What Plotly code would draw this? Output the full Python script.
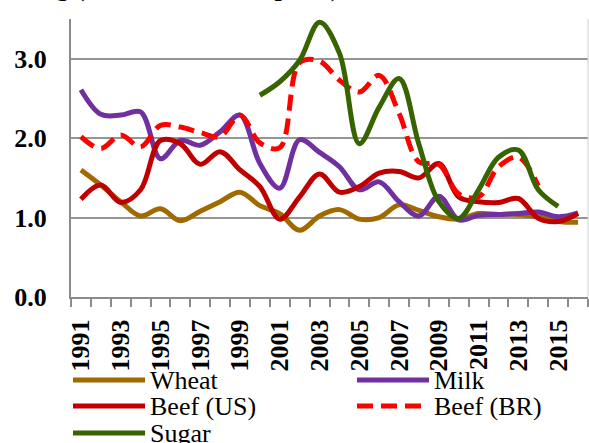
import plotly.graph_objects as go

# values
years = list(range(1991, 2017))
wheat = [1.60, 1.41, 1.20, 1.02, 1.11, 0.96, 1.08, 1.20, 1.32, 1.15, 1.05, 0.84, 1.02,
         1.10, 0.98, 1.00, 1.16, 1.09, 1.01, 0.98, 1.05, 1.04, 1.04, 1.01, 0.95, 0.94]
milk = [2.61, 2.30, 2.29, 2.33, 1.74, 1.97, 1.91, 2.08, 2.29, 1.68, 1.37, 1.98, 1.82,
        1.64, 1.35, 1.45, 1.20, 1.02, 1.27, 0.97, 1.03, 1.04, 1.05, 1.07, 1.01, 1.06]
beef_us = [1.23, 1.41, 1.19, 1.35, 1.97, 1.93, 1.67, 1.83, 1.60, 1.39, 0.98, 1.26, 1.55,
           1.32, 1.39, 1.56, 1.58, 1.50, 1.68, 1.26, 1.20, 1.19, 1.24, 0.99, 0.95, 1.05]
beef_br = [2.02, 1.87, 2.04, 1.89, 2.16, 2.14, 2.07, 2.02, 2.29, 1.94, 1.88, 2.95, 2.97,
           2.73, 2.58, 2.79, 2.31, 1.70, 1.67, 1.30, 1.26, 1.64, 1.76, 1.40, None, None]
sugar = [None] * 9 + [2.54, 2.71, 2.98, 3.46, 3.07, 1.93, 2.39, 2.75, 1.92, 1.20,
                      0.99, 1.35, 1.76, 1.85, 1.35, 1.14, None]
y_ticks = [0, 1, 2, 3]
x_ticks = list(range(1991, 2016, 2))

series = [
    ("Wheat", wheat, "#A06A00", "solid"),
    ("Milk", milk, "#7030A0", "solid"),
    ("Beef (US)", beef_us, "#C00000", "solid"),
    ("Beef (BR)", beef_br, "#FF0000", "16px,8px"),
    ("Sugar", sugar, "#376400", "solid"),
]

W, H = 589, 443
L, R, T, B = 71, 1, 19, 146
pw, ph = W - L - R, H - T - B
SERIF = "Liberation Serif"


def px(x):
    return (x - L) / pw


def py(y):
    return (H - B - y) / ph


fig = go.Figure()
for name, vals, color, dash in series:
    fig.add_trace(go.Scatter(
        x=years, y=vals, name=name, mode="lines",
        line={"color": color, "width": 5, "dash": dash, "shape": "spline", "smoothing": 1},
        connectgaps=False, showlegend=False,
    ))

# hand-made legend (long line samples, two columns)
legend_pos = [(73, 380), (357, 380), (73, 406), (357, 406), (73, 433)]
for (name, _, color, dash), (lx, ly) in zip(series, legend_pos):
    fig.add_shape(type="line", xref="paper", yref="paper",
                  x0=px(lx), x1=px(lx + 72), y0=py(ly), y1=py(ly),
                  line={"color": color, "width": 5, "dash": dash})
    fig.add_annotation(text=name, xref="paper", yref="paper", x=px(lx + 75), y=py(ly),
                       xanchor="left", yanchor="middle", showarrow=False,
                       font={"family": SERIF, "size": 26, "color": "black"})

# light right border
fig.add_shape(type="line", xref="paper", yref="paper", x0=1, x1=1, y0=0, y1=1,
              line={"color": "#D0D0D0", "width": 1})

# title, mostly cut off at the top of the picture
fig.add_annotation(text="<b>Relative Pricing (domestic / world price)</b>",
                   xref="paper", yref="paper", x=px(341), y=1, yshift=15,
                   xanchor="right", yanchor="bottom", showarrow=False,
                   font={"family": SERIF, "size": 26, "color": "black"})

fig.update_layout(
    width=W, height=H,
    margin={"l": L, "r": R, "t": T, "b": B, "autoexpand": False},
    paper_bgcolor="white", plot_bgcolor="white",
    xaxis={
        "range": [1990.5, 2016.5],
        "tickvals": x_ticks,
        "ticktext": [str(y) for y in x_ticks],
        "tickangle": -90, "automargin": False,
        "ticks": "", "ticklabelstandoff": 10,
        "tickfont": {"family": SERIF, "size": 26, "color": "black", "weight": "bold"},
        "showgrid": False,
        "showline": True, "linecolor": "#8C8C8C", "linewidth": 2,
        "minor": {"tickvals": [y + 0.5 for y in range(1990, 2017)], "ticks": "outside",
                  "ticklen": 8, "tickcolor": "#8C8C8C", "tickwidth": 1.5, "showgrid": False},
        "zeroline": False, "fixedrange": True,
    },
    yaxis={
        "range": [0, 3.5],
        "tickvals": y_ticks + [3.5],
        "ticktext": [f"{v:.1f}" for v in y_ticks] + [""],
        "ticks": "", "ticklabelstandoff": 17, "automargin": False,
        "tickfont": {"family": SERIF, "size": 26, "color": "black", "weight": "bold"},
        "showgrid": True, "gridcolor": "#959595", "gridwidth": 2,
        "showline": True, "linecolor": "#8C8C8C", "linewidth": 2,
        "zeroline": False, "fixedrange": True,
    },
    showlegend=False,
)

# the page body has a default 8px margin; drop it so the figure sits at 0,0
fig.write_html("out.html", config={"displayModeBar": False},
               post_script="document.body.style.margin='0';")
